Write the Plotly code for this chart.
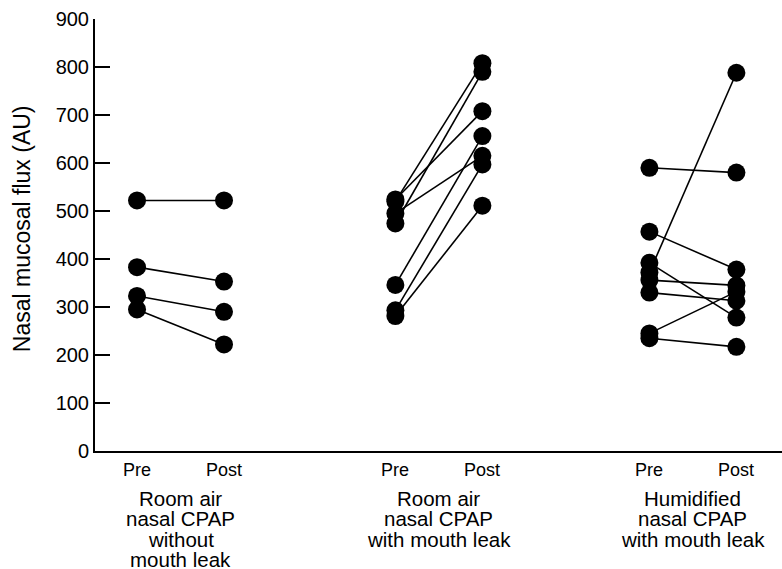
import plotly.graph_objects as go

# ---- data ----
y_ticks = [0, 100, 200, 300, 400, 500, 600, 700, 800, 900]
phase_labels = ["Pre", "Post"]
group_labels = [
    ["Room air", "nasal CPAP", "without", "mouth leak"],
    ["Room air", "nasal CPAP", "with mouth leak"],
    ["Humidified", "nasal CPAP", "with mouth leak"],
]
g1_pre = [522, 383, 323, 295]
g1_post = [522, 353, 290, 222]
g2_pre = [524, 520, 495, 474, 346, 293, 281]
g2_post = [708, 808, 615, 790, 656, 597, 511]
g3_pre = [590, 457, 392, 372, 356, 330, 245, 235]
g3_post = [580, 378, 278, 788, 345, 313, 332, 217]

groups = [(g1_pre, g1_post), (g2_pre, g2_post), (g3_pre, g3_post)]

# ---- layout constants ----
W, H = 782, 569
L, R, T, B = 95, 0, 19, 118
pre_pos = [0.0, 2.97, 5.89]      # x position of "Pre" column of each group
x_range = [-0.483, 7.414]
plot_h = H - T - B

def py(pix):
    return (H - B - pix) / plot_h

FONT = "Liberation Sans, Arial, sans-serif"

fig = go.Figure()
for (pre, post), x0 in zip(groups, pre_pos):
    for a, b in zip(pre, post):
        fig.add_trace(go.Scatter(
            x=[x0, x0 + 1], y=[a, b], mode="lines+markers",
            line=dict(color="black", width=1.6),
            marker=dict(color="black", size=18),
            showlegend=False, hoverinfo="skip", cliponaxis=False))

ann = []
for gi, x0 in enumerate(pre_pos):
    for k, lab in enumerate(phase_labels):
        ann.append(dict(x=x0 + k, y=py(470), xref="x", yref="paper", text=lab,
                        showarrow=False, xanchor="center", yanchor="middle",
                        font=dict(family=FONT, size=18, color="black")))
    for li, line in enumerate(group_labels[gi]):
        ann.append(dict(x=x0 + 0.5, y=py(498 + li * 20.5), xref="x", yref="paper",
                        text=line, showarrow=False, xanchor="center", yanchor="middle",
                        borderpad=0,
                        font=dict(family=FONT, size=20.5, color="black")))

ann.append(dict(x=-0.106, y=py(229), xref="paper", yref="paper",
                text="Nasal mucosal flux (AU)", textangle=-90, showarrow=False,
                xanchor="center", yanchor="middle",
                font=dict(family=FONT, size=23, color="black")))

fig.update_layout(
    width=W, height=H,
    margin=dict(l=L, r=R, t=T, b=B),
    paper_bgcolor="white", plot_bgcolor="white",
    annotations=ann,
    xaxis=dict(range=x_range, showticklabels=False, ticks="", showgrid=False,
               zeroline=False, showline=True, linecolor="black", linewidth=2),
    yaxis=dict(range=[0, 900], tickvals=y_ticks, ticks="inside", ticklen=15,
               tickwidth=2, tickcolor="black", showgrid=False, zeroline=False,
               showline=True, linecolor="black", linewidth=2,
               tickfont=dict(family=FONT, size=20, color="black")),
)

fig.write_html("out.html", config={"displayModeBar": False},
               post_script="document.body.style.margin='0';")
